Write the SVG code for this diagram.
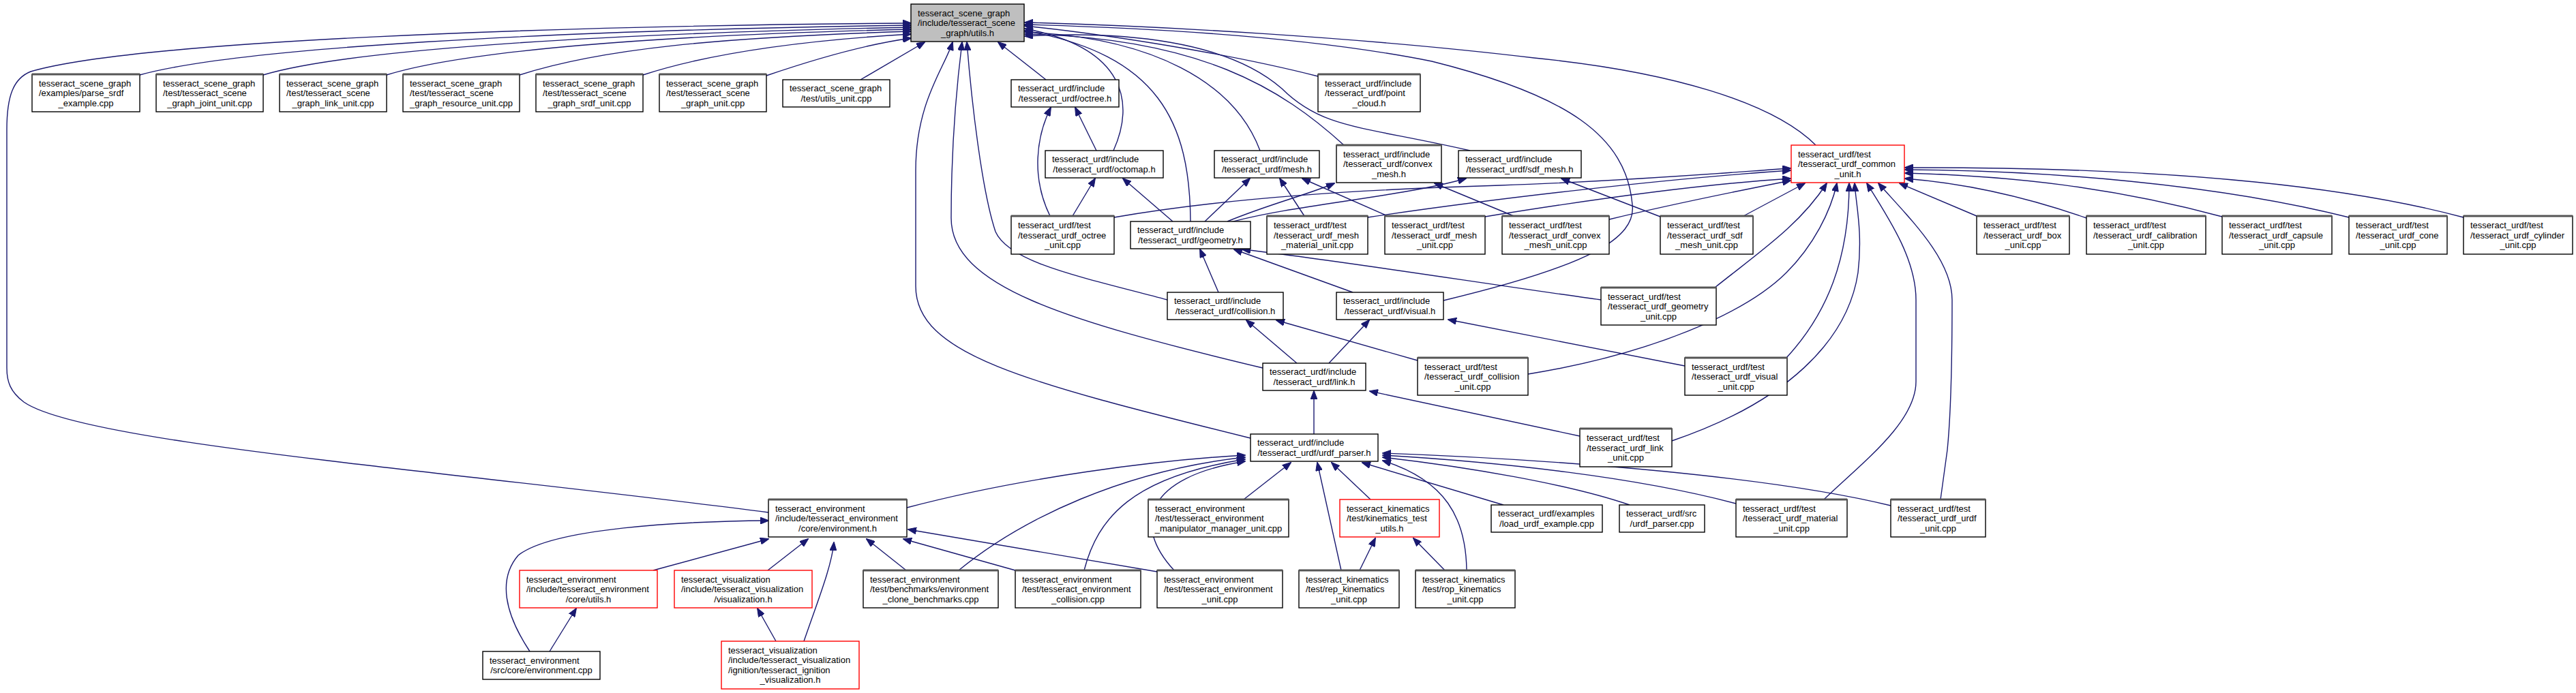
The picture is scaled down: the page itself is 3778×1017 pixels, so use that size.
<svg xmlns="http://www.w3.org/2000/svg" width="3778" height="1017" viewBox="0 0 3778 1017">
<defs>
<style>
.n rect{fill:#fff;stroke:#000;stroke-width:1.4}
.r rect{fill:#fff;stroke:#ff0000;stroke-width:1.4}
.g rect{fill:#bfbfbf;stroke:#000;stroke-width:1.4}
.hd{stroke:#555;stroke-width:3}
text{font-family:"Liberation Sans",Arial,Helvetica,sans-serif;font-size:13px;fill:#000}
.c{text-anchor:middle}
#edges path{fill:none;stroke:#191970;stroke-width:1.4;marker-end:url(#a)}
</style>
<marker id="a" markerWidth="13" markerHeight="10" refX="12" refY="5" orient="auto" markerUnits="userSpaceOnUse"><path d="M0,0 L13,5 L0,10 z" fill="#191970" stroke="#191970" stroke-width="1"/></marker>
</defs>
<rect x="0" y="0" width="3778" height="1017" fill="#fff"/>
<g id="edges">
<path d="M1127,752 C650,690 120,650 35,590 C15,575 10,560 10,540 L10,190 C10,140 20,115 45,105 C200,60 800,38 1336,34"/>
<path d="M205,110 C350,70 800,45 1336,37"/>
<path d="M386,110 C500,75 850,50 1336,40"/>
<path d="M567,110 C680,75 950,52 1336,43"/>
<path d="M762,110 C880,72 1050,55 1336,46"/>
<path d="M943,110 C1050,75 1200,58 1336,50"/>
<path d="M1124,111 C1200,85 1270,65 1336,56"/>
<path d="M1262,117 L1356,62"/>
<path d="M1834,643 C1500,560 1343,520 1343,420 L1343,250 C1343,150 1385,100 1397,62"/>
<path d="M1852,540 C1560,470 1395,420 1395,320 C1395,200 1405,110 1411,62"/>
<path d="M1712,440 C1580,405 1480,385 1460,340 C1440,280 1425,150 1418,62"/>
<path d="M1534,117 L1464,62"/>
<path d="M1933,112 C1800,78 1620,50 1503,38"/>
<path d="M1633,221 C1665,150 1650,70 1503,42"/>
<path d="M1746,325 C1745,180 1700,80 1503,45"/>
<path d="M1848,221 C1810,120 1690,55 1503,47"/>
<path d="M1971,213 C1880,130 1760,55 1503,50"/>
<path d="M2156,221 C2000,185 1940,190 1880,130 C1800,60 1650,45 1503,53"/>
<path d="M2117,441 C2330,390 2400,350 2394,300 C2385,200 2300,140 2100,90 C1900,50 1650,40 1503,36"/>
<path d="M2663,213 C2600,150 2450,105 2250,85 C2000,55 1700,38 1503,33"/>
<path d="M1540,317 C1512,260 1520,200 1541,158"/>
<path d="M1608,221 L1577,158"/>
<path d="M1573,317 L1606,262"/>
<path d="M1720,325 L1647,262"/>
<path d="M1767,325 L1833,262"/>
<path d="M1913,317 L1877,262"/>
<path d="M2035,317 L1910,262"/>
<path d="M1800,325 C1860,300 1920,285 1957,269"/>
<path d="M2220,317 L2104,269"/>
<path d="M1805,326 C1900,300 2050,290 2150,262"/>
<path d="M2435,318 L2290,262"/>
<path d="M1634,319 C1800,290 2000,278 2200,272 C2400,265 2550,252 2626,247"/>
<path d="M2006,319 C2200,290 2450,262 2626,250"/>
<path d="M2178,318 C2350,290 2500,270 2626,262"/>
<path d="M2360,322 C2450,300 2550,280 2626,265"/>
<path d="M2557,317 L2647,269"/>
<path d="M2515,422 C2580,370 2640,330 2679,269"/>
<path d="M2241,549 C2420,520 2560,460 2620,400 C2660,360 2685,310 2694,269"/>
<path d="M2620,525 C2680,460 2712,380 2712,269"/>
<path d="M2452,647 C2620,590 2710,500 2725,400 C2732,340 2722,300 2720,269"/>
<path d="M2675,733 C2730,680 2810,620 2810,560 L2810,440 C2810,380 2770,320 2738,269"/>
<path d="M2846,733 L2856,660 C2862,600 2863,520 2863,440 C2863,380 2800,320 2755,269"/>
<path d="M2899,317 L2786,269"/>
<path d="M3060,320 C2960,285 2870,268 2794,262"/>
<path d="M3259,318 C3100,275 2950,258 2794,254"/>
<path d="M3445,319 C3250,270 3000,250 2794,249"/>
<path d="M3613,319 C3400,262 3100,245 2794,246"/>
<path d="M1787,429 L1760,366"/>
<path d="M1984,429 L1810,366"/>
<path d="M2348,440 C2200,420 1950,380 1822,366"/>
<path d="M1902,533 L1828,470"/>
<path d="M2079,529 L1872,470"/>
<path d="M1949,533 L2008,470"/>
<path d="M2471,537 L2124,469"/>
<path d="M1927,637 L1927,574"/>
<path d="M2317,640 L2009,574"/>
<path d="M1330,745 C1500,700 1700,675 1826,668"/>
<path d="M1406,837 C1500,760 1650,690 1826,671"/>
<path d="M1590,837 C1610,760 1660,700 1826,674"/>
<path d="M1722,837 C1660,770 1680,700 1826,677"/>
<path d="M1824,733 L1893,679"/>
<path d="M1967,837 L1932,679"/>
<path d="M2010,733 L1953,679"/>
<path d="M2205,741 L1998,679"/>
<path d="M2151,837 C2150,760 2120,705 2028,676"/>
<path d="M2390,741 C2300,710 2150,685 2028,671"/>
<path d="M2546,739 C2400,700 2200,678 2028,668"/>
<path d="M2773,742 C2600,700 2300,675 2028,665"/>
<path d="M958,837 L1127,791"/>
<path d="M1126,837 L1185,791"/>
<path d="M1179,941 C1200,880 1220,830 1223,796"/>
<path d="M777,956 C740,900 730,850 760,815 C810,775 1000,765 1127,764"/>
<path d="M1329,837 L1271,791"/>
<path d="M1489,837 L1325,791"/>
<path d="M1697,839 L1332,777"/>
<path d="M806,956 L845,893"/>
<path d="M1138,941 L1111,893"/>
<path d="M1994,837 L2017,790"/>
<path d="M2119,837 L2073,790"/>
</g>

<g id="utils_h" class="g"><rect x="1336" y="6" width="166" height="55"/><text x="1346" y="23.5">tesseract_scene_graph</text><text x="1346" y="38">/include/tesseract_scene</text><text class="c" x="1419" y="52.5">_graph/utils.h</text></g>

<g id="parse_srdf" class="n"><rect x="47" y="109" width="158" height="55"/><line class="hd" x1="47" y1="109" x2="205" y2="109"/><text x="57" y="126.5">tesseract_scene_graph</text><text x="57" y="141">/examples/parse_srdf</text><text class="c" x="126" y="155.5">_example.cpp</text></g>
<g id="sg_joint_unit" class="n"><rect x="229" y="109" width="157" height="55"/><line class="hd" x1="229" y1="109" x2="386" y2="109"/><text x="239" y="126.5">tesseract_scene_graph</text><text x="239" y="141">/test/tesseract_scene</text><text class="c" x="307.5" y="155.5">_graph_joint_unit.cpp</text></g>
<g id="sg_link_unit" class="n"><rect x="410" y="109" width="157" height="55"/><line class="hd" x1="410" y1="109" x2="567" y2="109"/><text x="420" y="126.5">tesseract_scene_graph</text><text x="420" y="141">/test/tesseract_scene</text><text class="c" x="488.5" y="155.5">_graph_link_unit.cpp</text></g>
<g id="sg_resource_unit" class="n"><rect x="591" y="109" width="171" height="55"/><line class="hd" x1="591" y1="109" x2="762" y2="109"/><text x="601" y="126.5">tesseract_scene_graph</text><text x="601" y="141">/test/tesseract_scene</text><text class="c" x="676.5" y="155.5">_graph_resource_unit.cpp</text></g>
<g id="sg_srdf_unit" class="n"><rect x="786" y="109" width="157" height="55"/><line class="hd" x1="786" y1="109" x2="943" y2="109"/><text x="796" y="126.5">tesseract_scene_graph</text><text x="796" y="141">/test/tesseract_scene</text><text class="c" x="864.5" y="155.5">_graph_srdf_unit.cpp</text></g>
<g id="sg_graph_unit" class="n"><rect x="967" y="109" width="157" height="55"/><line class="hd" x1="967" y1="109" x2="1124" y2="109"/><text x="977" y="126.5">tesseract_scene_graph</text><text x="977" y="141">/test/tesseract_scene</text><text class="c" x="1045.5" y="155.5">_graph_unit.cpp</text></g>
<g id="sg_utils_unit" class="n"><rect x="1148" y="117" width="157" height="40"/><text x="1158" y="134.25">tesseract_scene_graph</text><text class="c" x="1226.5" y="148.75">/test/utils_unit.cpp</text></g>

<g id="octree_h" class="n"><rect x="1483" y="117" width="158" height="40"/><text x="1493" y="134.25">tesseract_urdf/include</text><text class="c" x="1562" y="148.75">/tesseract_urdf/octree.h</text></g>
<g id="point_cloud_h" class="n"><rect x="1933" y="109" width="150" height="55"/><line class="hd" x1="1933" y1="109" x2="2083" y2="109"/><text x="1943" y="126.5">tesseract_urdf/include</text><text x="1943" y="141">/tesseract_urdf/point</text><text class="c" x="2008" y="155.5">_cloud.h</text></g>
<g id="octomap_h" class="n"><rect x="1533" y="221" width="173" height="40"/><text x="1543" y="238.25">tesseract_urdf/include</text><text class="c" x="1619.5" y="252.75">/tesseract_urdf/octomap.h</text></g>
<g id="mesh_h" class="n"><rect x="1781" y="221" width="154" height="40"/><text x="1791" y="238.25">tesseract_urdf/include</text><text class="c" x="1858" y="252.75">/tesseract_urdf/mesh.h</text></g>
<g id="convex_mesh_h" class="n"><rect x="1960" y="213" width="154" height="55"/><line class="hd" x1="1960" y1="213" x2="2114" y2="213"/><text x="1970" y="230.5">tesseract_urdf/include</text><text x="1970" y="245">/tesseract_urdf/convex</text><text class="c" x="2037" y="259.5">_mesh.h</text></g>
<g id="sdf_mesh_h" class="n"><rect x="2139" y="221" width="180" height="40"/><text x="2149" y="238.25">tesseract_urdf/include</text><text class="c" x="2229" y="252.75">/tesseract_urdf/sdf_mesh.h</text></g>
<g id="common_unit_h" class="r"><rect x="2627" y="213" width="166" height="55"/><text x="2637" y="230.5">tesseract_urdf/test</text><text x="2637" y="245">/tesseract_urdf_common</text><text class="c" x="2710" y="259.5">_unit.h</text></g>

<g id="octree_unit" class="n"><rect x="1483" y="317" width="151" height="56"/><line class="hd" x1="1483" y1="317" x2="1634" y2="317"/><text x="1493" y="335">tesseract_urdf/test</text><text x="1493" y="349.5">/tesseract_urdf_octree</text><text class="c" x="1558.5" y="364">_unit.cpp</text></g>
<g id="geometry_h" class="n"><rect x="1658" y="325" width="176" height="40"/><text x="1668" y="342.25">tesseract_urdf/include</text><text class="c" x="1746" y="356.75">/tesseract_urdf/geometry.h</text></g>
<g id="mesh_material_unit" class="n"><rect x="1858" y="317" width="148" height="56"/><line class="hd" x1="1858" y1="317" x2="2006" y2="317"/><text x="1868" y="335">tesseract_urdf/test</text><text x="1868" y="349.5">/tesseract_urdf_mesh</text><text class="c" x="1932" y="364">_material_unit.cpp</text></g>
<g id="mesh_unit" class="n"><rect x="2031" y="317" width="147" height="56"/><line class="hd" x1="2031" y1="317" x2="2178" y2="317"/><text x="2041" y="335">tesseract_urdf/test</text><text x="2041" y="349.5">/tesseract_urdf_mesh</text><text class="c" x="2104.5" y="364">_unit.cpp</text></g>
<g id="convex_mesh_unit" class="n"><rect x="2203" y="317" width="157" height="56"/><line class="hd" x1="2203" y1="317" x2="2360" y2="317"/><text x="2213" y="335">tesseract_urdf/test</text><text x="2213" y="349.5">/tesseract_urdf_convex</text><text class="c" x="2281.5" y="364">_mesh_unit.cpp</text></g>
<g id="sdf_mesh_unit" class="n"><rect x="2435" y="317" width="136" height="56"/><line class="hd" x1="2435" y1="317" x2="2571" y2="317"/><text x="2445" y="335">tesseract_urdf/test</text><text x="2445" y="349.5">/tesseract_urdf_sdf</text><text class="c" x="2503" y="364">_mesh_unit.cpp</text></g>
<g id="box_unit" class="n"><rect x="2899" y="317" width="136" height="56"/><line class="hd" x1="2899" y1="317" x2="3035" y2="317"/><text x="2909" y="335">tesseract_urdf/test</text><text x="2909" y="349.5">/tesseract_urdf_box</text><text class="c" x="2967" y="364">_unit.cpp</text></g>
<g id="calibration_unit" class="n"><rect x="3060" y="317" width="175" height="56"/><line class="hd" x1="3060" y1="317" x2="3235" y2="317"/><text x="3070" y="335">tesseract_urdf/test</text><text x="3070" y="349.5">/tesseract_urdf_calibration</text><text class="c" x="3147.5" y="364">_unit.cpp</text></g>
<g id="capsule_unit" class="n"><rect x="3259" y="317" width="161" height="56"/><line class="hd" x1="3259" y1="317" x2="3420" y2="317"/><text x="3269" y="335">tesseract_urdf/test</text><text x="3269" y="349.5">/tesseract_urdf_capsule</text><text class="c" x="3339.5" y="364">_unit.cpp</text></g>
<g id="cone_unit" class="n"><rect x="3445" y="317" width="144" height="56"/><line class="hd" x1="3445" y1="317" x2="3589" y2="317"/><text x="3455" y="335">tesseract_urdf/test</text><text x="3455" y="349.5">/tesseract_urdf_cone</text><text class="c" x="3517" y="364">_unit.cpp</text></g>
<g id="cylinder_unit" class="n"><rect x="3613" y="317" width="160" height="56"/><line class="hd" x1="3613" y1="317" x2="3773" y2="317"/><text x="3623" y="335">tesseract_urdf/test</text><text x="3623" y="349.5">/tesseract_urdf_cylinder</text><text class="c" x="3693" y="364">_unit.cpp</text></g>

<g id="collision_h" class="n"><rect x="1712" y="429" width="170" height="40"/><text x="1722" y="446.25">tesseract_urdf/include</text><text class="c" x="1797" y="460.75">/tesseract_urdf/collision.h</text></g>
<g id="visual_h" class="n"><rect x="1960" y="429" width="157" height="40"/><text x="1970" y="446.25">tesseract_urdf/include</text><text class="c" x="2038.5" y="460.75">/tesseract_urdf/visual.h</text></g>
<g id="geometry_unit" class="n"><rect x="2348" y="422" width="169" height="55"/><line class="hd" x1="2348" y1="422" x2="2517" y2="422"/><text x="2358" y="439.5">tesseract_urdf/test</text><text x="2358" y="454">/tesseract_urdf_geometry</text><text class="c" x="2432.5" y="468.5">_unit.cpp</text></g>

<g id="link_h" class="n"><rect x="1852" y="533" width="151" height="40"/><text x="1862" y="550.25">tesseract_urdf/include</text><text class="c" x="1927.5" y="564.75">/tesseract_urdf/link.h</text></g>
<g id="collision_unit" class="n"><rect x="2079" y="525" width="162" height="55"/><line class="hd" x1="2079" y1="525" x2="2241" y2="525"/><text x="2089" y="542.5">tesseract_urdf/test</text><text x="2089" y="557">/tesseract_urdf_collision</text><text class="c" x="2160" y="571.5">_unit.cpp</text></g>
<g id="visual_unit" class="n"><rect x="2471" y="525" width="150" height="55"/><line class="hd" x1="2471" y1="525" x2="2621" y2="525"/><text x="2481" y="542.5">tesseract_urdf/test</text><text x="2481" y="557">/tesseract_urdf_visual</text><text class="c" x="2546" y="571.5">_unit.cpp</text></g>

<g id="urdf_parser_h" class="n"><rect x="1834" y="637" width="187" height="40"/><text x="1844" y="654.25">tesseract_urdf/include</text><text class="c" x="1927.5" y="668.75">/tesseract_urdf/urdf_parser.h</text></g>
<g id="link_unit" class="n"><rect x="2317" y="629" width="135" height="56"/><line class="hd" x1="2317" y1="629" x2="2452" y2="629"/><text x="2327" y="647">tesseract_urdf/test</text><text x="2327" y="661.5">/tesseract_urdf_link</text><text class="c" x="2384.5" y="676">_unit.cpp</text></g>

<g id="environment_h" class="n"><rect x="1127" y="733" width="203" height="55"/><line class="hd" x1="1127" y1="733" x2="1330" y2="733"/><text x="1137" y="750.5">tesseract_environment</text><text x="1137" y="765">/include/tesseract_environment</text><text class="c" x="1228.5" y="779.5">/core/environment.h</text></g>
<g id="manipulator_manager_unit" class="n"><rect x="1684" y="733" width="206" height="55"/><line class="hd" x1="1684" y1="733" x2="1890" y2="733"/><text x="1694" y="750.5">tesseract_environment</text><text x="1694" y="765">/test/tesseract_environment</text><text class="c" x="1787" y="779.5">_manipulator_manager_unit.cpp</text></g>
<g id="kinematics_test_utils_h" class="r"><rect x="1965" y="733" width="146" height="55"/><text x="1975" y="750.5">tesseract_kinematics</text><text x="1975" y="765">/test/kinematics_test</text><text class="c" x="2038" y="779.5">_utils.h</text></g>
<g id="load_urdf_example" class="n"><rect x="2187" y="741" width="163" height="40"/><text x="2197" y="758.25">tesseract_urdf/examples</text><text class="c" x="2268.5" y="772.75">/load_urdf_example.cpp</text></g>
<g id="urdf_parser_cpp" class="n"><rect x="2375" y="741" width="125" height="40"/><text x="2385" y="758.25">tesseract_urdf/src</text><text class="c" x="2437.5" y="772.75">/urdf_parser.cpp</text></g>
<g id="material_unit" class="n"><rect x="2546" y="733" width="163" height="55"/><line class="hd" x1="2546" y1="733" x2="2709" y2="733"/><text x="2556" y="750.5">tesseract_urdf/test</text><text x="2556" y="765">/tesseract_urdf_material</text><text class="c" x="2627.5" y="779.5">_unit.cpp</text></g>
<g id="urdf_unit" class="n"><rect x="2773" y="733" width="139" height="55"/><line class="hd" x1="2773" y1="733" x2="2912" y2="733"/><text x="2783" y="750.5">tesseract_urdf/test</text><text x="2783" y="765">/tesseract_urdf_urdf</text><text class="c" x="2842.5" y="779.5">_unit.cpp</text></g>

<g id="env_utils_h" class="r"><rect x="762" y="837" width="202" height="55"/><text x="772" y="854.5">tesseract_environment</text><text x="772" y="869">/include/tesseract_environment</text><text class="c" x="863" y="883.5">/core/utils.h</text></g>
<g id="visualization_h" class="r"><rect x="989" y="837" width="202" height="55"/><text x="999" y="854.5">tesseract_visualization</text><text x="999" y="869">/include/tesseract_visualization</text><text class="c" x="1090" y="883.5">/visualization.h</text></g>
<g id="env_clone_benchmarks" class="n"><rect x="1266" y="837" width="198" height="55"/><line class="hd" x1="1266" y1="837" x2="1464" y2="837"/><text x="1276" y="854.5">tesseract_environment</text><text x="1276" y="869">/test/benchmarks/environment</text><text class="c" x="1365" y="883.5">_clone_benchmarks.cpp</text></g>
<g id="env_collision" class="n"><rect x="1489" y="837" width="184" height="55"/><line class="hd" x1="1489" y1="837" x2="1673" y2="837"/><text x="1499" y="854.5">tesseract_environment</text><text x="1499" y="869">/test/tesseract_environment</text><text class="c" x="1581" y="883.5">_collision.cpp</text></g>
<g id="env_unit" class="n"><rect x="1697" y="837" width="184" height="55"/><line class="hd" x1="1697" y1="837" x2="1881" y2="837"/><text x="1707" y="854.5">tesseract_environment</text><text x="1707" y="869">/test/tesseract_environment</text><text class="c" x="1789" y="883.5">_unit.cpp</text></g>
<g id="rep_kinematics_unit" class="n"><rect x="1905" y="837" width="147" height="55"/><line class="hd" x1="1905" y1="837" x2="2052" y2="837"/><text x="1915" y="854.5">tesseract_kinematics</text><text x="1915" y="869">/test/rep_kinematics</text><text class="c" x="1978.5" y="883.5">_unit.cpp</text></g>
<g id="rop_kinematics_unit" class="n"><rect x="2076" y="837" width="146" height="55"/><line class="hd" x1="2076" y1="837" x2="2222" y2="837"/><text x="2086" y="854.5">tesseract_kinematics</text><text x="2086" y="869">/test/rop_kinematics</text><text class="c" x="2149" y="883.5">_unit.cpp</text></g>

<g id="environment_cpp" class="n"><rect x="708" y="956" width="172" height="41"/><text x="718" y="973.75">tesseract_environment</text><text class="c" x="794" y="988.25">/src/core/environment.cpp</text></g>
<g id="ignition_visualization_h" class="r"><rect x="1058" y="941" width="202" height="70"/><text x="1068" y="958.75">tesseract_visualization</text><text x="1068" y="973.25">/include/tesseract_visualization</text><text x="1068" y="987.75">/ignition/tesseract_ignition</text><text class="c" x="1159" y="1002.25">_visualization.h</text></g>
</svg>
